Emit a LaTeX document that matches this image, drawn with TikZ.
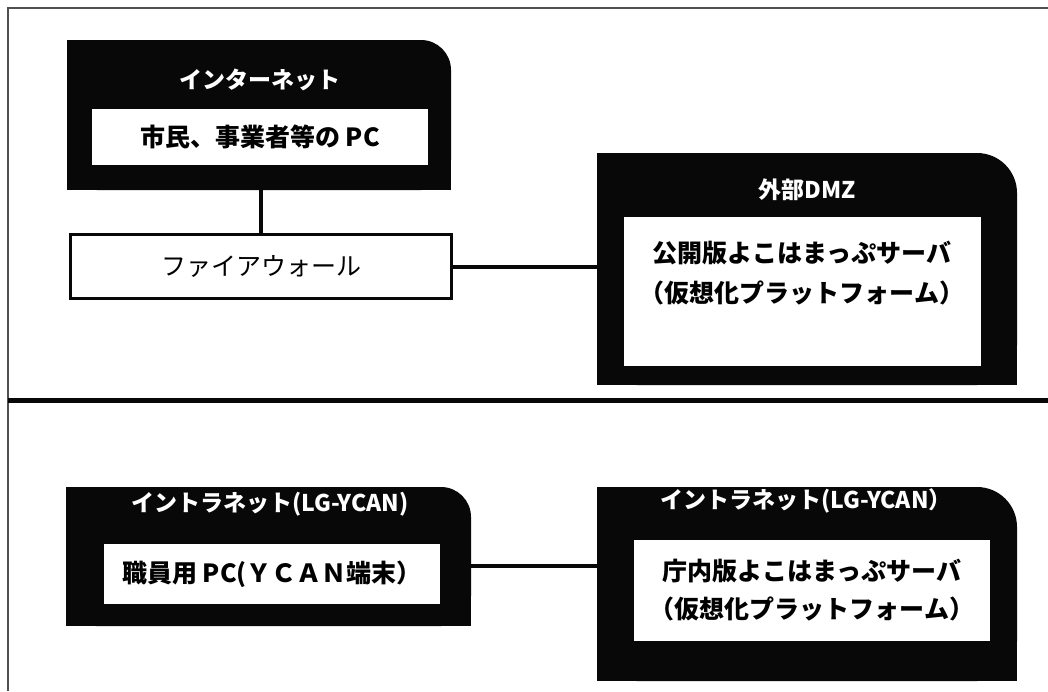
\documentclass[tikz,border=0pt]{standalone}
\usepackage{fontspec}
\setmainfont{Noto Sans CJK JP}
\newfontfamily\jp{Noto Sans CJK JP}
\usetikzlibrary{calc}
\definecolor{boxblack}{HTML}{080808}
\definecolor{framegray}{HTML}{505050}
\tikzset{
  outerbox/.style={fill=boxblack, draw=none, inner sep=0pt, rounded corners=#1},
  innerbox/.style={fill=white, draw=none, inner sep=0pt},
  titletext/.style={text=white, font=\jp\bfseries\fontsize{23}{27}\selectfont, inner sep=0pt},
  bodytext/.style={text=black, font=\jp\bfseries\fontsize{25}{38}\selectfont, inner sep=0pt, align=center},
  fwbox/.style={fill=white, draw=boxblack, line width=3pt, inner sep=0pt, font=\jp\fontsize{25}{30}\selectfont},
  link/.style={draw=boxblack, line width=4pt},
}
\newcommand{\squarecorners}[2]{%
  \fill[boxblack] (#1.south west) rectangle ([xshift=-#2pt]#1.north east);
  \fill[boxblack] (#1.south west) rectangle ([yshift=-#2pt]#1.north east);
}
\begin{document}
\begin{tikzpicture}[x=1pt,y=-1pt]
\useasboundingbox (0,0) rectangle (1048,691);
\fill[white] (0,0) rectangle (1048,691);
% frame
\coordinate (fbl) at (8,691);
\coordinate (ftl) at (8,8);
\coordinate (ftr) at (1048,8);
\draw[framegray, line width=1.5pt] (fbl) -- (ftl) -- (ftr);
% separator
\coordinate (sepl) at (8,400.5);
\coordinate (sepr) at (1048,400.5);
\draw[boxblack, line width=5pt] (sepl) -- (sepr);

% Internet box
\node[outerbox=30pt, minimum width=384pt, minimum height=150pt] (inet) at (259,115) {};
\squarecorners{inet}{30}
\node[titletext] (inett) at (260,80) {インターネット};
\node[innerbox, minimum width=336pt, minimum height=56pt] (pc) at (260,137) {};
\node[bodytext] (pct) at (260,137) {市民、事業者等の PC};

% Firewall
\node[fwbox, minimum width=381pt, minimum height=64pt] (fw) at (261,266.5) {ファイアウォール};

% DMZ box
\node[outerbox=40pt, minimum width=420pt, minimum height=232pt] (dmz) at (807,269) {};
\squarecorners{dmz}{40}
\node[titletext] (dmzt) at (807,190) {外部DMZ};
\node[innerbox, minimum width=357pt, minimum height=149pt] (dmzin) at (802.5,291.5) {};
\node[bodytext] (dmzt1) at (802,253) {公開版よこはまっぷサーバ};
\node[bodytext] (dmzt2) at (802,293) {（仮想化プラットフォーム）};

% connectors upper
\draw[link] (inet.south -| fw.north) -- (fw.north);
\draw[link] (fw.east) -- (fw.east -| dmz.west);

% bottom left
\node[outerbox=30pt, minimum width=405pt, minimum height=139pt] (bl) at (268.5,556.5) {};
\squarecorners{bl}{30}
\node[titletext] (blt) at (270,504) {イントラネット(LG-YCAN)};
\node[innerbox, minimum width=336pt, minimum height=60pt] (blin) at (272,574) {};
\node[bodytext] (blint) at (272,574) {職員用 PC(ＹＣＡＮ端末）};

% bottom right
\node[outerbox=40pt, minimum width=420pt, minimum height=194pt] (br) at (807,584) {};
\squarecorners{br}{40}
\node[titletext] (brt) at (806,501) {イントラネット(LG-YCAN）};
\node[innerbox, minimum width=356pt, minimum height=101pt] (brin) at (812,590.5) {};
\node[bodytext] (brint) at (812,590) {庁内版よこはまっぷサーバ\\（仮想化プラットフォーム）};

% connector lower
\coordinate (blc) at ([yshift=-9.5pt]bl.east);
\draw[link] (blc) -- (blc -| br.west);
\end{tikzpicture}
\end{document}
